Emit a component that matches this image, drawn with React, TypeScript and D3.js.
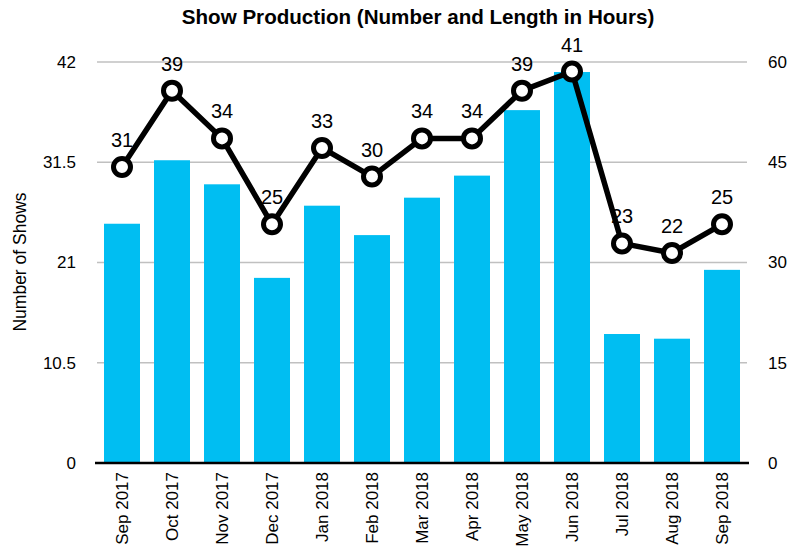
import React from "react";
import * as d3 from "d3";

const categories = ["Sep 2017","Oct 2017","Nov 2017","Dec 2017","Jan 2018","Feb 2018","Mar 2018","Apr 2018","May 2018","Jun 2018","Jul 2018","Aug 2018","Sep 2018"];
const hours = [35.8,45.3,41.7,27.7,38.5,34.1,39.7,43.0,52.8,58.5,19.3,18.6,28.9];
const shows = [31,39,34,25,33,30,34,34,39,41,23,22,25];
const leftTicks = [0,10.5,21,31.5,42];
const rightTicks = [0,15,30,45,60];

const W = 791, H = 553;
const m = { left: 97, right: 44, top: 62, bottom: 90 };
const FONT = "'Liberation Sans', Arial, Helvetica, sans-serif";

export default function App() {
  const x = d3.scaleBand().domain(categories).range([m.left, W - m.right]).paddingInner(0.28).paddingOuter(0.14);
  const yL = d3.scaleLinear().domain([0, 42]).range([H - m.bottom, m.top]);
  const yR = d3.scaleLinear().domain([0, 60]).range([H - m.bottom, m.top]);
  const cx = (c: string) => (x(c) as number) + x.bandwidth() / 2;
  const line = d3.line<number>().x((_, i) => cx(categories[i])).y(d => yL(d));
  return (
    <svg width={W} height={H} style={{ position: "absolute", left: 0, top: 0, fontFamily: FONT }}>
      <rect width={W} height={H} fill="#fff" />
      <text x={418} y={24} textAnchor="middle" fontWeight="bold" fontSize={20.6}>Show Production (Number and Length in Hours)</text>
      {leftTicks.map((t, i) => (
        <g key={"g" + i}>
          {t !== 0 && <line x1={m.left} x2={W - m.right} y1={yL(t)} y2={yL(t)} stroke="#c0c0c0" strokeWidth={1.5} />}
          <text x={76} y={yL(t)} dy="0.35em" textAnchor="end" fontSize={17}>{t}</text>
        </g>
      ))}
      {rightTicks.map((t, i) => (
        <text key={"r" + i} x={768} y={yR(t)} dy="0.35em" textAnchor="start" fontSize={17}>{t}</text>
      ))}
      <text transform={`translate(26,262) rotate(-90)`} textAnchor="middle" fontSize={17.5}>Number of Shows</text>
      {categories.map((c, i) => (
        <rect key={"b" + i} x={x(c)} y={yR(hours[i])} width={x.bandwidth()} height={yR(0) - yR(hours[i])} fill="#00BEF2" />
      ))}
      <line x1={m.left - 2} x2={W - m.right + 2} y1={yL(0)} y2={yL(0)} stroke="#000" strokeWidth={2.5} />
      {categories.map((c, i) => (
        <text key={"x" + i} transform={`translate(${cx(c) + 6},${H - m.bottom + 9}) rotate(-90)`} textAnchor="end" fontSize={17}>{c}</text>
      ))}
      <path d={line(shows) || ""} fill="none" stroke="#000" strokeWidth={5.5} strokeLinejoin="round" />
      {shows.map((v, i) => (
        <circle key={"c" + i} cx={cx(categories[i])} cy={yL(v)} r={8.5} fill="#fff" stroke="#000" strokeWidth={5} />
      ))}
      {shows.map((v, i) => (
        <text key={"l" + i} x={cx(categories[i])} y={yL(v) - 20} textAnchor="middle" fontSize={20}>{v}</text>
      ))}
    </svg>
  );
}
